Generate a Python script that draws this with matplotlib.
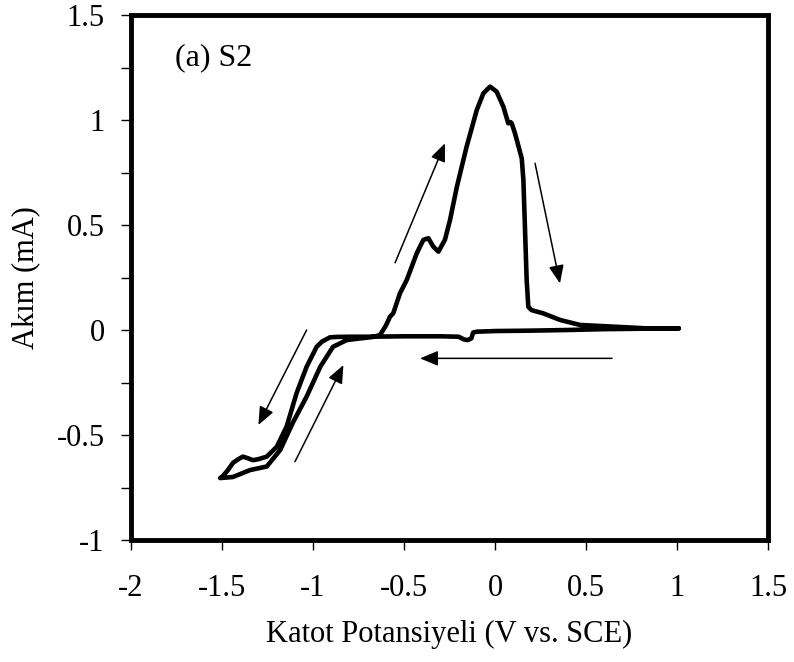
import matplotlib
matplotlib.use("Agg")
import matplotlib.pyplot as plt
from matplotlib.ticker import MultipleLocator, FixedLocator, FuncFormatter

plt.rcParams['font.family'] = ['Liberation Serif', 'DejaVu Serif']
plt.rcParams['axes.unicode_minus'] = False

# Cathodic sweep (from +1.0 V towards -1.5 V)
cath_x = [1.01, 0.8, 0.6, 0.4, 0.2, 0.0, -0.10, -0.12, -0.13, -0.15, -0.17, -0.2,
          -0.3, -0.4, -0.5, -0.6, -0.7, -0.8, -0.87, -0.907, -0.95, -0.98, -1.035,
          -1.09, -1.145, -1.199, -1.254, -1.30, -1.33, -1.36, -1.385, -1.41, -1.44,
          -1.47, -1.50, -1.51]
cath_y = [0.008, 0.006, 0.004, 0.0, -0.003, -0.005, -0.008, -0.012, -0.04, -0.048,
          -0.045, -0.032, -0.030, -0.030, -0.030, -0.031, -0.032, -0.032, -0.033,
          -0.035, -0.055, -0.080, -0.175, -0.30, -0.46, -0.556, -0.603, -0.615,
          -0.62, -0.61, -0.603, -0.615, -0.633, -0.67, -0.70, -0.705]

# Anodic sweep (from -1.5 V back to +1.0 V)
anod_x = [-1.51, -1.44, -1.346, -1.254, -1.18, -1.11, -1.035, -0.96, -0.89, -0.815,
          -0.74, -0.67, -0.632, -0.60, -0.577, -0.559, -0.522, -0.485, -0.43, -0.394,
          -0.366, -0.339, -0.311, -0.275, -0.247, -0.21, -0.156, -0.10, -0.064,
          -0.027, 0.009, 0.046, 0.073, 0.085, 0.092, 0.11, 0.147, 0.156, 0.165,
          0.174, 0.183, 0.20, 0.266, 0.357, 0.467, 0.65, 0.83, 1.01]
anod_y = [-0.705, -0.70, -0.667, -0.65, -0.571, -0.44, -0.317, -0.175, -0.08, -0.048,
          -0.04, -0.033, -0.024, 0.02, 0.063, 0.08, 0.175, 0.238, 0.365, 0.429,
          0.437, 0.397, 0.373, 0.43, 0.524, 0.68, 0.873, 1.048, 1.127, 1.159, 1.135,
          1.063, 0.984, 0.99, 0.984, 0.936, 0.817, 0.714, 0.476, 0.238, 0.111,
          0.095, 0.079, 0.048, 0.024, 0.016, 0.008, 0.008]

# Sweep-direction arrows: (tail_x, tail_y, tip_x, tip_y)
arrows = [
    (-0.549, 0.32, -0.275, 0.889),
    (0.22, 0.794, 0.357, 0.222),
    (0.643, -0.135, -0.412, -0.135),
    (-1.035, 0.0, -1.30, -0.452),
    (-1.099, -0.627, -0.833, -0.167),
]

x_ticks = [-2, -1.5, -1, -0.5, 0, 0.5, 1, 1.5]
y_ticks = [-1, -0.5, 0, 0.5, 1, 1.5]

fig = plt.figure(figsize=(7.94, 6.62), dpi=100)
ax = fig.add_axes([131/794, 122/662, 637/794, 525/662])

ax.plot(cath_x + anod_x, cath_y + anod_y, color='black', lw=3.3,
        solid_joinstyle='round', solid_capstyle='round')

for tx, ty, hx, hy in arrows:
    ax.annotate('', xy=(hx, hy), xytext=(tx, ty),
                arrowprops=dict(arrowstyle='-|>,head_length=0.55,head_width=0.23',
                                mutation_scale=20, lw=1.1, color='black',
                                shrinkA=0, shrinkB=0))

ax.text(-1.758, 1.298, '(a) S2', fontsize=23, ha='left', va='center')

ax.set_xlim(-2, 1.5)
ax.set_ylim(-1, 1.5)
ax.xaxis.set_major_locator(FixedLocator(x_ticks))
ax.yaxis.set_major_locator(FixedLocator(y_ticks))
ax.yaxis.set_minor_locator(MultipleLocator(0.25))
fmt = FuncFormatter(lambda v, p: ('%g' % v))
ax.xaxis.set_major_formatter(fmt)
ax.yaxis.set_major_formatter(fmt)

ax.tick_params(axis='both', which='both', direction='out', width=1, length=7,
               labelsize=22, top=False, right=False)
ax.tick_params(axis='x', pad=17.5)
ax.tick_params(axis='y', pad=12)

for s in ax.spines.values():
    s.set_linewidth(3.5)

ax.set_xlabel('Katot Potansiyeli (V vs. SCE)', fontsize=22, labelpad=12)
ax.set_ylabel('Akım (mA)', fontsize=22, labelpad=12)

fig.savefig('out.png', dpi=100)
